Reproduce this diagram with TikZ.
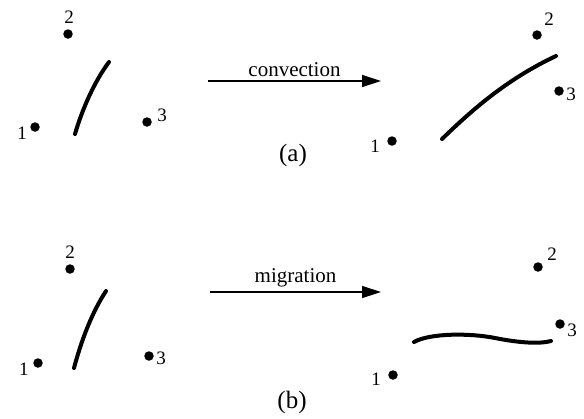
\documentclass[tikz,border=0pt]{standalone}
\usepackage{fontspec}
\setmainfont{Liberation Serif}
\usetikzlibrary{arrows.meta}
\begin{document}
\begin{tikzpicture}[x=1pt,y=-1pt,
  pt/.style={circle,fill=black,inner sep=0pt,minimum size=9.5pt},
  num/.style={font=\fontsize{19}{19}\selectfont,inner sep=0pt},
  lbl/.style={font=\fontsize{21}{21}\selectfont,inner sep=0pt},
  subcap/.style={font=\fontsize{25}{25}\selectfont,inner sep=0pt},
  front/.style={line width=4pt,line cap=round},
  proc/.style={line width=1.4pt,-{Triangle[length=19pt,width=12pt]}}]
\useasboundingbox (0,0) rectangle (584,418);
% ---- panel (a), left
\node[pt] (a1) at (35,127) {};
\node[pt] (a2) at (68,34) {};
\node[pt] (a3) at (147,122) {};
\node[num] (a1l) at (22,133) {1};
\node[num] (a2l) at (69,17) {2};
\node[num] (a3l) at (162,115) {3};
\coordinate (af0) at (75,134);
\coordinate (af1) at (109,62);
\draw[front] (af0) .. controls (82,110) and (94,82) .. (af1);
% arrow
\coordinate (ca) at (208,81);
\coordinate (cb) at (381,81);
\draw[proc] (ca) -- (cb) node[lbl,midway,above=4pt] {convection};
% ---- panel (a), right
\node[pt] (b1) at (392,141) {};
\node[pt] (b2) at (537,35) {};
\node[pt] (b3) at (559,91) {};
\node[num] (b1l) at (375,146) {1};
\node[num] (b2l) at (549,19) {2};
\node[num] (b3l) at (571,94) {3};
\coordinate (bf0) at (442,139);
\coordinate (bf1) at (556,56);
\draw[front] (bf0) .. controls (470,112) and (505,80) .. (bf1);
\node[subcap] (capa) at (293,155) {(a)};
% ---- panel (b), left
\node[pt] (c1) at (38,363) {};
\node[pt] (c2) at (70,269) {};
\node[pt] (c3) at (149,356) {};
\node[num] (c1l) at (24,369) {1};
\node[num] (c2l) at (70,252) {2};
\node[num] (c3l) at (161,358) {3};
\coordinate (cf0) at (74,368);
\coordinate (cf1) at (106,291);
\draw[front] (cf0) .. controls (81,342) and (91,314) .. (cf1);
% arrow
\coordinate (ma) at (210,292);
\coordinate (mb) at (381,292);
\draw[proc] (ma) -- (mb) node[lbl,midway,above=4pt] {migration};
% ---- panel (b), right
\node[pt] (d1) at (393,375) {};
\node[pt] (d2) at (538,267) {};
\node[pt] (d3) at (560,324) {};
\node[num] (d1l) at (376,379) {1};
\node[num] (d2l) at (552,254) {2};
\node[num] (d3l) at (572,330) {3};
\coordinate (df0) at (414,342);
\coordinate (df1) at (551,341);
\draw[front] (df0) .. controls (430,333) and (470,333) .. (495,338)
  .. controls (520,343) and (540,344) .. (df1);
\node[subcap] (capb) at (292,402) {(b)};
\end{tikzpicture}
\end{document}
